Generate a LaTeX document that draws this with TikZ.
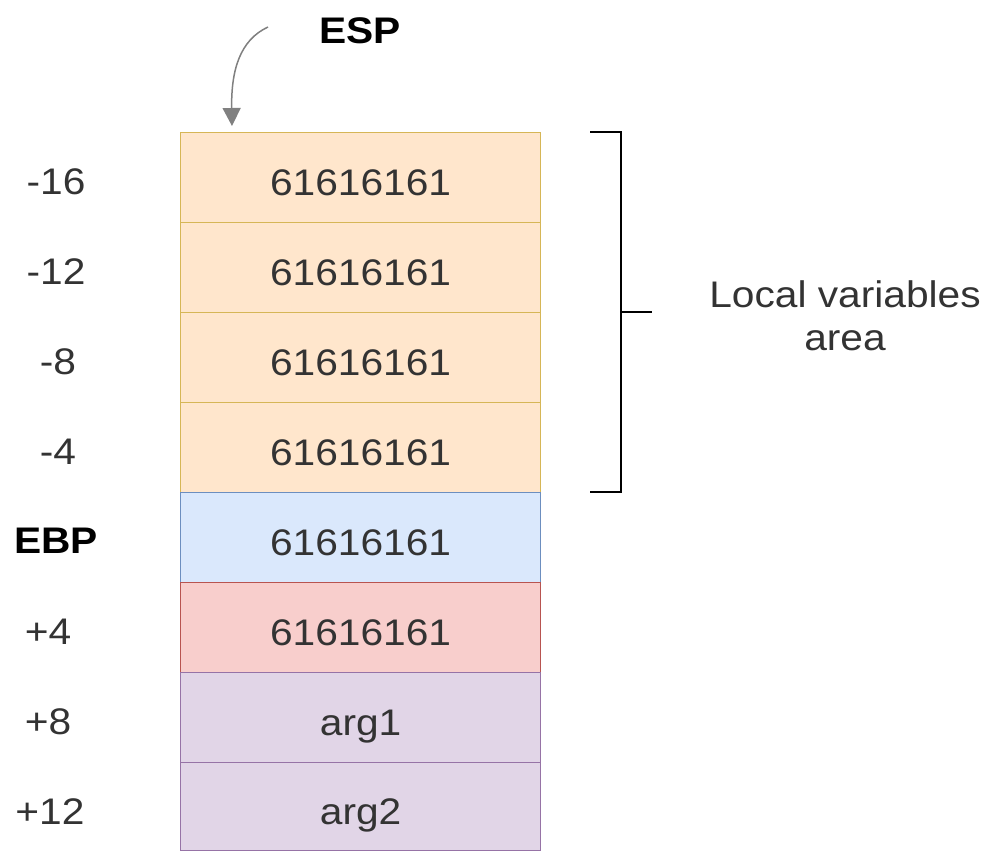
\documentclass[tikz,border=0pt]{standalone}
\usepackage{fontspec}
\setmainfont{Liberation Sans}
\usepackage{graphicx}
\usetikzlibrary{arrows.meta}
\definecolor{orfill}{HTML}{FFE6CC}\definecolor{ordraw}{HTML}{D6B656}
\definecolor{blfill}{HTML}{DAE8FC}\definecolor{bldraw}{HTML}{6C8EBF}
\definecolor{rdfill}{HTML}{F8CECC}\definecolor{rddraw}{HTML}{B85450}
\definecolor{pufill}{HTML}{E1D5E7}\definecolor{pudraw}{HTML}{9673A6}
\definecolor{txt}{HTML}{333333}
\definecolor{ptr}{HTML}{808080}
\newcommand{\wtext}[1]{\scalebox{1.1}[1]{#1}}
\tikzset{
  cell/.style={draw, line width=1.2pt, minimum width=360pt, minimum height=90pt,
    inner sep=0pt, anchor=north west, text=txt, text height=36pt, text depth=0pt,
    font=\fontsize{37}{43}\selectfont},
  offs/.style={text=txt, font=\fontsize{37}{43}\selectfont},
  reg/.style={text=black, font=\fontsize{37}{43}\selectfont\bfseries},
}
\begin{document}
\begin{tikzpicture}[x=1pt,y=-1pt]
\useasboundingbox (0,0) rectangle (988,852);
% stack cells
\node[cell, fill=orfill, draw=ordraw] (c1) at (180,132) {\wtext{61616161}};
\node[cell, fill=orfill, draw=ordraw] (c2) at (180,222) {\wtext{61616161}};
\node[cell, fill=orfill, draw=ordraw] (c3) at (180,312) {\wtext{61616161}};
\node[cell, fill=orfill, draw=ordraw] (c4) at (180,402) {\wtext{61616161}};
\node[cell, fill=blfill, draw=bldraw] (c5) at (180,492) {\wtext{61616161}};
\node[cell, fill=rdfill, draw=rddraw] (c6) at (180,582) {\wtext{61616161}};
\node[cell, fill=pufill, draw=pudraw] (c7) at (180,672) {\wtext{arg1}};
\node[cell, fill=pufill, draw=pudraw, minimum height=88pt] (c8) at (180,762) {\wtext{arg2}};
% offsets
\node[offs] (o1) at (56,182) {\wtext{-16}};
\node[offs] (o2) at (56,272) {\wtext{-12}};
\node[offs] (o3) at (58,362) {\wtext{-8}};
\node[offs] (o4) at (58,452) {\wtext{-4}};
\node[reg]  (ebp) at (56,541) {\wtext{EBP}};
\node[offs] (o6) at (48,632) {\wtext{+4}};
\node[offs] (o7) at (48,722) {\wtext{+8}};
\node[offs] (o8) at (50,812) {\wtext{+12}};
% stack pointer
\node[reg] (esp) at (360,31) {\wtext{ESP}};
\coordinate (espfrom) at (268,27);
\coordinate (esptip) at (232,126);
\draw[draw=ptr, line width=1.5pt, -{Triangle[length=18pt,width=18pt]}]
  (espfrom) .. controls (240,40) and (231,70) .. (esptip);
% bracket over local variables
\coordinate (bt) at (590,132);
\coordinate (bb) at (590,492);
\coordinate (bm) at (621,312);
\draw[line width=1.8pt] (bt) -- (621,132) -- (621,492) -- (bb);
\draw[line width=1.8pt] (bm) -- (652,312);
\node[offs, align=center] (lva) at (845,316) {\wtext{Local variables}\\\wtext{area}};
\end{tikzpicture}
\end{document}
